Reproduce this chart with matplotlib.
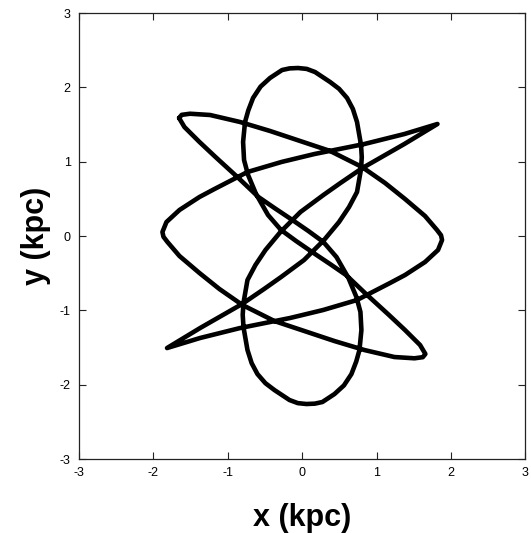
import numpy as np
import matplotlib
matplotlib.use("Agg")
import matplotlib.pyplot as plt

plt.rcParams["font.family"] = ["Liberation Sans", "DejaVu Sans"]

# orbit traced in four pieces (kpc), in drawing order
# upper-left tip -> right end -> lower-left tip
seg_a = [(-1.655, 1.587), (-1.620, 1.630), (-1.508, 1.645), (-1.239, 1.628),
         (-0.836, 1.534), (-0.433, 1.413), (-0.030, 1.278), (0.374, 1.144),
         (0.804, 0.928), (1.113, 0.713), (1.381, 0.498), (1.650, 0.269),
         (1.811, 0.081), (1.865, 0.010), (1.879, -0.054), (1.825, -0.188),
         (1.650, -0.350), (1.381, -0.525), (1.180, -0.632), (0.736, -0.861),
         (0.279, -0.996), (-0.164, -1.103), (-0.567, -1.184), (-0.836, -1.238),
         (-1.373, -1.372), (-1.817, -1.507)]

# lower-left tip -> upper loop -> lower-right tip
seg_b = [(-1.373, -1.238), (-0.809, -0.915), (-0.513, -0.713), (-0.285, -0.552),
         (0.024, -0.323), (0.159, -0.188), (0.293, -0.054), (0.494, 0.188),
         (0.629, 0.390), (0.736, 0.592), (0.790, 0.901), (0.800, 1.060),
         (0.790, 1.224), (0.736, 1.534), (0.680, 1.710), (0.602, 1.857),
         (0.495, 1.980), (0.374, 2.072), (0.172, 2.206), (0.060, 2.248),
         (-0.056, 2.260), (-0.170, 2.255), (-0.271, 2.233), (-0.433, 2.126),
         (-0.560, 2.010), (-0.661, 1.857), (-0.725, 1.690), (-0.769, 1.534),
         (-0.795, 1.265), (-0.782, 1.022), (-0.728, 0.821), (-0.621, 0.565),
         (-0.460, 0.283), (-0.285, 0.081), (-0.083, -0.067), (0.132, -0.215),
         (0.374, -0.377), (0.589, -0.525), (0.857, -0.780), (1.166, -1.063),
         (1.381, -1.265), (1.583, -1.466), (1.655, -1.587)]

# lower-right tip -> left end -> upper-right tip
seg_c = [(1.620, -1.630), (1.508, -1.645), (1.239, -1.628), (0.836, -1.534),
         (0.433, -1.413), (0.030, -1.278), (-0.374, -1.144), (-0.804, -0.928),
         (-1.113, -0.713), (-1.381, -0.498), (-1.650, -0.269), (-1.811, -0.081),
         (-1.865, -0.010), (-1.879, 0.054), (-1.825, 0.188), (-1.650, 0.350),
         (-1.381, 0.525), (-1.180, 0.632), (-0.736, 0.861), (-0.279, 0.996),
         (0.164, 1.103), (0.567, 1.184), (0.836, 1.238), (1.373, 1.372),
         (1.817, 1.507)]

# upper-right tip -> lower loop -> upper-left tip
seg_d = [(1.373, 1.238), (0.809, 0.915), (0.513, 0.713), (0.285, 0.552),
         (-0.024, 0.323), (-0.159, 0.188), (-0.293, 0.054), (-0.494, -0.188),
         (-0.629, -0.390), (-0.736, -0.592), (-0.790, -0.901), (-0.800, -1.060),
         (-0.790, -1.224), (-0.736, -1.534), (-0.680, -1.710), (-0.602, -1.857),
         (-0.495, -1.980), (-0.374, -2.072), (-0.172, -2.206), (-0.060, -2.248),
         (0.056, -2.260), (0.170, -2.255), (0.271, -2.233), (0.433, -2.126),
         (0.560, -2.010), (0.661, -1.857), (0.725, -1.690), (0.769, -1.534),
         (0.795, -1.265), (0.782, -1.022), (0.728, -0.821), (0.621, -0.565),
         (0.460, -0.283), (0.285, -0.081), (0.083, 0.067), (-0.132, 0.215),
         (-0.374, 0.377), (-0.589, 0.525), (-0.857, 0.780), (-1.166, 1.063),
         (-1.381, 1.265), (-1.583, 1.466), (-1.655, 1.587)]

ticks = [-3, -2, -1, 0, 1, 2, 3]

orbit = np.array(seg_a + seg_b + seg_c + seg_d)

fig = plt.figure(figsize=(5.31, 5.33), dpi=100)
ax = fig.add_axes([0.1488, 0.1388, 0.8408, 0.8368])

ax.plot(orbit[:, 0], orbit[:, 1], color="black", lw=3.3,
        solid_joinstyle="round", solid_capstyle="round")

ax.set_xlim(-3, 3)
ax.set_ylim(-3, 3)
ax.set_xticks(ticks)
ax.set_yticks(ticks)
ax.set_xticklabels([str(t) for t in ticks])
ax.set_yticklabels([str(t) for t in ticks])
ax.tick_params(direction="in", length=5, width=0.8, labelsize=9,
               top=True, right=True, pad=6, colors="#222222",
               labelcolor="black")
for s in ax.spines.values():
    s.set_linewidth(0.9)
    s.set_color("#222222")

ax.set_xlabel("x (kpc)", fontsize=22, fontweight="bold", labelpad=17)
ax.set_ylabel("y (kpc)", fontsize=22, fontweight="bold", labelpad=6)

fig.savefig("out.png", dpi=100, facecolor="white")
